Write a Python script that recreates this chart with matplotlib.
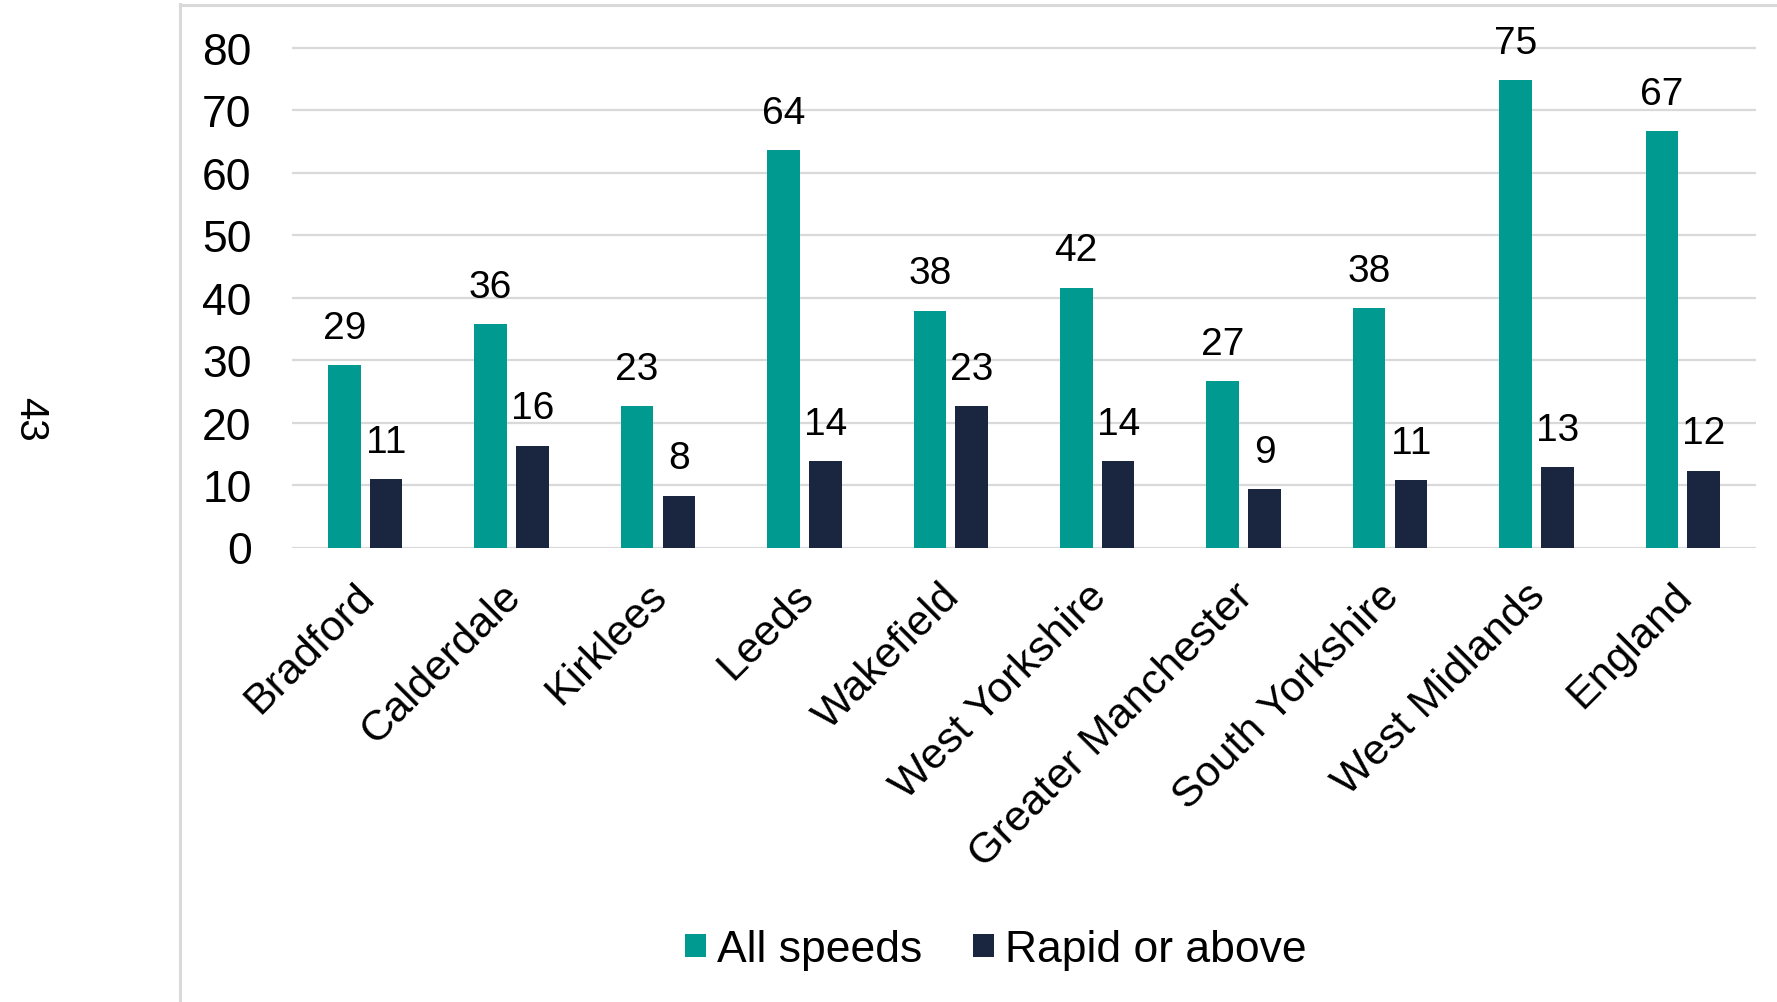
import numpy as np
import matplotlib
matplotlib.use('Agg')
import matplotlib.pyplot as plt
import matplotlib.transforms as mtransforms
from matplotlib.lines import Line2D

plt.rcParams['font.family'] = ['Liberation Sans', 'DejaVu Sans']

areas = ['Bradford', 'Calderdale', 'Kirklees', 'Leeds', 'Wakefield', 'West Yorkshire',
         'Greater Manchester', 'South Yorkshire', 'West Midlands', 'England']
all_speeds = [29.2, 35.8, 22.6, 63.6, 37.9, 41.6, 26.6, 38.3, 74.8, 66.7]
rapid_above = [10.9, 16.3, 8.3, 13.8, 22.6, 13.8, 9.3, 10.8, 12.9, 12.3]
series_names = ['All speeds', 'Rapid or above']

teal = '#009A90'
navy = '#1A2540'
grid_grey = '#D9D9D9'

W, H = 1777, 1003
fig = plt.figure(figsize=(W / 100, H / 100), dpi=100)

# axes placed in pixel terms: gridlines run 292..1756, zero at y=548.5
y0_px, y80_px = 548.5, 49.0
px_per_unit = (y0_px - y80_px) / 80
ytop = 80.6
top_px = y0_px - ytop * px_per_unit
ax = fig.add_axes([292 / W, 1 - y0_px / H, (1756 - 292) / W, (y0_px - top_px) / H])

x = np.arange(len(areas))
off = 0.143
bw = 0.222
b1 = ax.bar(x - off, all_speeds, bw, color=teal, label=series_names[0], zorder=3)
b2 = ax.bar(x + off, rapid_above, bw, color=navy, label=series_names[1], zorder=3)
ax.bar_label(b1, fmt='%.0f', padding=14, fontsize=28)
ax.bar_label(b2, fmt='%.0f', padding=14, fontsize=28)

ax.set_xlim(-0.5, len(areas) - 0.5)
ax.set_ylim(0, ytop)
ax.set_yticks(np.arange(0, 81, 10))
ax.yaxis.grid(True, color=grid_grey, linewidth=1.6, zorder=0)
ax.set_axisbelow(True)
for s in ax.spines.values():
    s.set_visible(False)
ax.tick_params(axis='y', length=0, pad=29, labelsize=32)
ax.tick_params(axis='x', length=0, pad=20)
ax.set_xticks(x)
ax.set_xticklabels(areas, rotation=45, ha='right', va='top',
                   rotation_mode='anchor', fontsize=31)
shift = mtransforms.ScaledTranslation(-11 / 100, 0, fig.dpi_scale_trans)
for lbl in ax.get_xticklabels():
    lbl.set_transform(lbl.get_transform() + shift)

leg = fig.legend(loc='center', bbox_to_anchor=(996 / W, 1 - 951 / H), ncol=2,
                 frameon=False, fontsize=32, handlelength=0.47, handleheight=0.42,
                 handletextpad=0.25, columnspacing=1.15)

# light frame round the chart area
fig.add_artist(Line2D([180 / W, 180 / W], [0, 1 - 5 / H], color=grid_grey, linewidth=2.2))
fig.add_artist(Line2D([180 / W, 1], [1 - 6 / H, 1 - 6 / H], color=grid_grey, linewidth=2.2))

fig.text(30 / W, 1 - 419 / H, '43', rotation=-90, ha='center', va='center', fontsize=29)

fig.savefig('out.png', dpi=100)
